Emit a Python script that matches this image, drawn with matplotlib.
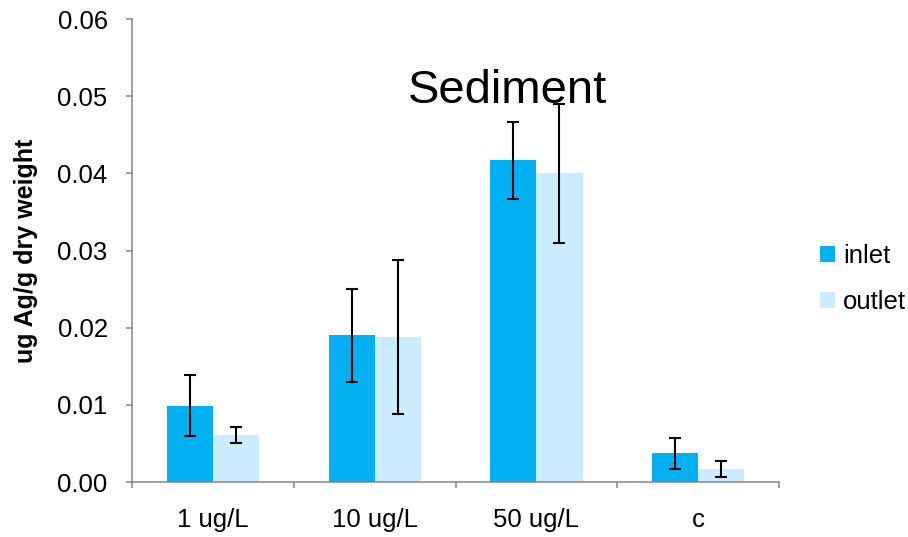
import matplotlib.pyplot as plt
import numpy as np

plt.rcParams['font.family'] = ['Liberation Sans', 'DejaVu Sans']

CATEGORIES = ['1 ug/L', '10 ug/L', '50 ug/L', 'c']
INLET = [0.0099, 0.0190, 0.0417, 0.0037]
INLET_ERR = [0.0040, 0.0060, 0.0050, 0.0020]
OUTLET = [0.0061, 0.0188, 0.0400, 0.0017]
OUTLET_ERR = [0.0010, 0.0100, 0.0090, 0.0010]

INLET_COLOR = '#00B0F0'
OUTLET_COLOR = '#CCECFF'
AXIS_GRAY = '#868686'

fig = plt.figure(figsize=(9.08, 5.37), dpi=100)
ax = fig.add_axes([0.1454, 0.1024, 0.7126, 0.8622])

x = np.arange(len(CATEGORIES))
width = 0.285
err_kw = dict(ecolor='black', elinewidth=1.5, capsize=4.2, capthick=1.5)

b_in = ax.bar(x - width / 2, INLET, width, color=INLET_COLOR, label='inlet',
              yerr=INLET_ERR, error_kw=err_kw)
b_out = ax.bar(x + width / 2, OUTLET, width, color=OUTLET_COLOR, label='outlet',
               yerr=OUTLET_ERR, error_kw=err_kw)

ax.set_xlim(-0.5, len(CATEGORIES) - 0.5)
ax.set_ylim(0, 0.06)
ax.set_yticks(np.arange(0, 0.061, 0.01))
ax.set_yticklabels([f'{v:.2f}' for v in np.arange(0, 0.061, 0.01)])
ax.set_xticks(x)
ax.set_xticklabels(CATEGORIES)
ax.set_xticks(np.arange(-0.5, len(CATEGORIES)), minor=True)

ax.tick_params(axis='x', which='major', length=0, pad=19, labelsize=18.5)
ax.tick_params(axis='x', which='minor', length=4.5, width=1.1, color=AXIS_GRAY, direction='out')
ax.tick_params(axis='y', length=4.5, width=1.1, color=AXIS_GRAY, pad=13, labelsize=18.5)

for side in ['top', 'right']:
    ax.spines[side].set_visible(False)
for side in ['left', 'bottom']:
    ax.spines[side].set_color(AXIS_GRAY)
    ax.spines[side].set_linewidth(1.1)

ax.set_ylabel('ug Ag/g dry weight', fontsize=18, fontweight='bold', labelpad=14)

fig.text(0.559, 0.808, 'Sediment', fontsize=34, ha='center', va='baseline')

ax.legend(handles=[b_in, b_out], loc='center left', bbox_to_anchor=(0.903, 0.48),
          bbox_transform=fig.transFigure, frameon=False, fontsize=18.5,
          handlelength=0.6, handleheight=0.6, handletextpad=0.3,
          labelspacing=0.85, borderpad=0, borderaxespad=0)

fig.savefig('out.png', dpi=100)
